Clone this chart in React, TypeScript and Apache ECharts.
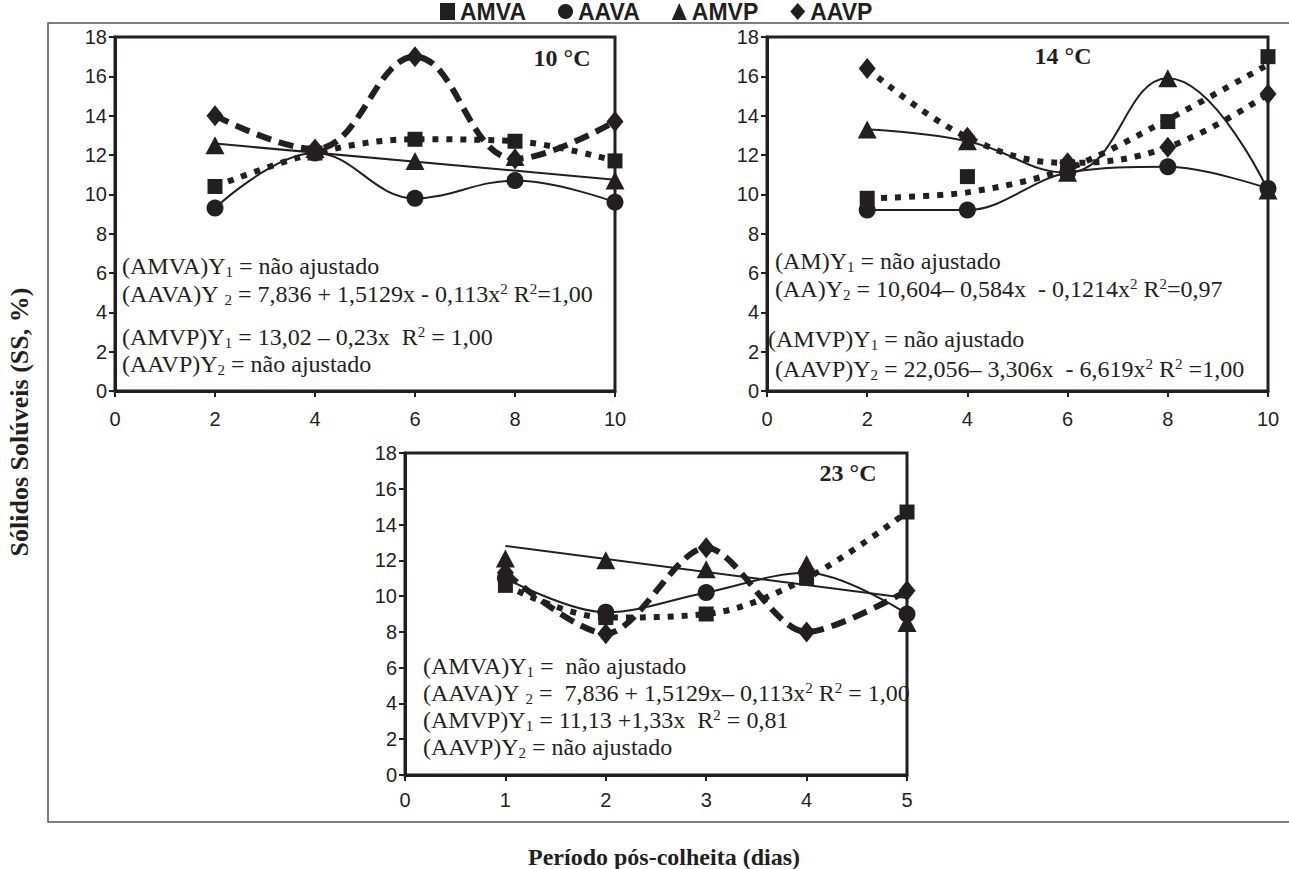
import React, { useEffect, useRef } from 'react';
import * as echarts from 'echarts';

// ---------- data ----------
const legendNames = ['AMVA', 'AAVA', 'AMVP', 'AAVP'];

// 10 °C
const days10 = [2, 4, 6, 8, 10];
const amva10 = [10.4, 12.1, 12.8, 12.7, 11.7];
const aava10 = [9.3, 12.1, 9.8, 10.7, 9.6];
const amvp10 = [12.5, 12.3, 11.7, 11.9, 10.7];
const aavp10 = [14.0, 12.3, 17.0, 11.8, 13.7];
const trendX10 = [2, 10];
const amvpTrend10 = [12.58, 10.74];

// 14 °C
const days14 = [2, 4, 6, 8, 10];
const amva14 = [9.8, 10.9, 11.4, 13.7, 17.0];
const amvaCurve14 = [9.8, 10.1, 11.3, 13.8, 16.6];
const aava14 = [9.2, 9.2, 11.1, 11.4, 10.3];
const amvp14 = [13.3, 12.7, 11.1, 15.9, 10.2];
const aavp14 = [16.4, 12.9, 11.6, 12.4, 15.1];

// 23 °C
const days23 = [1, 2, 3, 4, 5];
const amva23 = [10.6, 8.8, 9.0, 11.0, 14.7];
const aava23 = [11.0, 9.1, 10.2, 11.3, 9.0];
const amvp23 = [12.1, 12.0, 11.5, 11.8, 8.5];
const aavp23 = [11.3, 7.9, 12.7, 8.0, 10.3];
const trendX23 = [1, 5];
const amvpTrend23 = [12.8, 9.9];

const yTicks = { min: 0, max: 18, interval: 2 };
const xTicks10 = { min: 0, max: 10, interval: 2 };
const xTicks23 = { min: 0, max: 5, interval: 1 };

const panelTitles = ['10 °C', '14 °C', '23 °C'];

const eq10 = [
  '(AMVA)Y{s|1} = não ajustado',
  '(AAVA)Y {s|2} = 7,836 + 1,5129x - 0,113x{p|2} R{p|2}=1,00',
  '(AMVP)Y{s|1} = 13,02 – 0,23x  R{p|2} = 1,00',
  '(AAVP)Y{s|2} = não ajustado',
];
const eq14 = [
  '(AM)Y{s|1} = não ajustado',
  '(AA)Y{s|2} = 10,604– 0,584x  - 0,1214x{p|2} R{p|2}=0,97',
  '(AMVP)Y{s|1} = não ajustado',
  '(AAVP)Y{s|2} = 22,056– 3,306x  - 6,619x{p|2} R{p|2} =1,00',
];
const eq23 = [
  '(AMVA)Y{s|1} =  não ajustado',
  '(AAVA)Y {s|2} =  7,836 + 1,5129x– 0,113x{p|2} R{p|2} = 1,00',
  '(AMVP)Y{s|1} = 11,13 +1,33x  R{p|2} = 0,81',
  '(AAVP)Y{s|2} = não ajustado',
];

const yTitle = 'Sólidos Solúveis (SS, %)';
const xTitle = 'Período pós-colheita (dias)';

// ---------- styles ----------
const C = '#231f20';
const serif = 'Liberation Serif';
const sans = 'Liberation Sans';

const pairs = (xs: number[], ys: number[]) => xs.map((x, i) => [x, ys[i]]);

const markerDefs: Record<string, { symbol: string; size: any }> = {
  AMVA: { symbol: 'rect', size: [15, 15] },
  AAVA: { symbol: 'circle', size: 17 },
  AMVP: { symbol: 'triangle', size: [19, 18] },
  AAVP: { symbol: 'diamond', size: [17, 21] },
};

const grids = [
  { left: 115, top: 37, width: 500, height: 354 },
  { left: 767, top: 37, width: 501, height: 354 },
  { left: 405, top: 453, width: 502, height: 322 },
];

function lineSeries(gi: number, name: string, data: number[][], kind: 'solid' | 'dot' | 'dash', smooth: number | boolean) {
  const type = kind === 'solid' ? 'solid' : kind === 'dot' ? [6, 8] : [15, 8];
  return {
    type: 'line',
    name: name + ' linha ' + gi,
    xAxisIndex: gi,
    yAxisIndex: gi,
    data,
    smooth,
    showSymbol: false,
    symbol: 'none',
    silent: true,
    z: 2,
    lineStyle: { color: C, width: kind === 'solid' ? 2 : 6, type, cap: 'butt' },
  };
}

function markerSeries(gi: number, name: string, data: number[][]) {
  return {
    type: 'scatter',
    name,
    xAxisIndex: gi,
    yAxisIndex: gi,
    data,
    symbol: markerDefs[name].symbol,
    symbolSize: markerDefs[name].size,
    itemStyle: { color: C, opacity: 1 },
    z: 5,
  };
}

function axisCommon() {
  return {
    axisLine: { show: true, onZero: false, lineStyle: { color: C, width: 3 } },
    axisTick: { show: true, inside: false, length: 6, lineStyle: { color: C, width: 2 } },
    axisLabel: { color: C, fontFamily: sans, fontSize: 20 },
    splitLine: { show: false },
  };
}

const richStyles = {
  n: { fontSize: 24, fontFamily: serif, fill: C, lineHeight: 26 },
  s: { fontSize: 15, fontFamily: serif, fill: C, verticalAlign: 'bottom' },
  p: { fontSize: 15, fontFamily: serif, fill: C, verticalAlign: 'top' },
};

const toRich = (t: string) =>
  t
    .split(/(\{[sp]\|[^}]*\})/)
    .filter((seg) => seg.length > 0)
    .map((seg) => (seg.startsWith('{') ? seg : '{n|' + seg + '}'))
    .join('');

function eqTexts(lines: string[], xs: number[], ys: number[]) {
  return lines.map((t, i) => ({
    type: 'text',
    x: xs[i],
    y: ys[i],
    silent: true,
    style: {
      text: toRich(t),
      fill: C,
      fontFamily: serif,
      fontSize: 24,
      textAlign: 'left',
      textVerticalAlign: 'middle',
      rich: richStyles,
    },
  }));
}

function titleText(t: string, x: number, y: number) {
  return {
    type: 'text',
    x,
    y,
    silent: true,
    style: {
      text: t,
      fill: C,
      fontFamily: serif,
      fontWeight: 'bold',
      fontSize: 24,
      textAlign: 'center',
      textVerticalAlign: 'middle',
    },
  };
}

const option: any = {
  animation: false,
  backgroundColor: '#ffffff',
  legend: {
    data: legendNames.map((n) => ({ name: n, icon: markerDefs[n].symbol })),
    left: 440,
    top: 0,
    itemWidth: 15,
    itemHeight: 17,
    itemGap: 32,
    padding: 0,
    textStyle: { color: C, fontFamily: sans, fontWeight: 'bold', fontSize: 23, lineHeight: 23 },
    selectedMode: false,
  },
  grid: grids.map((g) => ({ ...g, show: true, borderColor: C, borderWidth: 3, backgroundColor: 'transparent' })),
  xAxis: [
    { gridIndex: 0, type: 'value', ...xTicks10, ...axisCommon(), axisLabel: { ...axisCommon().axisLabel, margin: 18 } },
    { gridIndex: 1, type: 'value', ...xTicks10, ...axisCommon(), axisLabel: { ...axisCommon().axisLabel, margin: 18 } },
    { gridIndex: 2, type: 'value', ...xTicks23, ...axisCommon(), axisLabel: { ...axisCommon().axisLabel, margin: 15 } },
  ],
  yAxis: [0, 1, 2].map((gi) => ({
    gridIndex: gi,
    type: 'value',
    ...yTicks,
    ...axisCommon(),
    axisLabel: { ...axisCommon().axisLabel, margin: 8 },
  })),
  series: [
    // 10 °C
    lineSeries(0, 'AMVA', pairs(days10, amva10), 'dot', 0.35),
    lineSeries(0, 'AAVA', pairs(days10, aava10), 'solid', 0.4),
    lineSeries(0, 'AMVP', pairs(trendX10, amvpTrend10), 'solid', false),
    lineSeries(0, 'AAVP', pairs(days10, aavp10), 'dash', 0.4),
    markerSeries(0, 'AMVA', pairs(days10, amva10)),
    markerSeries(0, 'AAVA', pairs(days10, aava10)),
    markerSeries(0, 'AMVP', pairs(days10, amvp10)),
    markerSeries(0, 'AAVP', pairs(days10, aavp10)),
    // 14 °C
    lineSeries(1, 'AMVA', pairs(days14, amvaCurve14), 'dot', 0.3),
    lineSeries(1, 'AAVA', pairs(days14, aava14), 'solid', 0.35),
    lineSeries(1, 'AMVP', pairs(days14, amvp14), 'solid', 0.45),
    lineSeries(1, 'AAVP', pairs(days14, aavp14), 'dot', 0.4),
    markerSeries(1, 'AMVA', pairs(days14, amva14)),
    markerSeries(1, 'AAVA', pairs(days14, aava14)),
    markerSeries(1, 'AMVP', pairs(days14, amvp14)),
    markerSeries(1, 'AAVP', pairs(days14, aavp14)),
    // 23 °C
    lineSeries(2, 'AMVA', pairs(days23, amva23), 'dot', 0.35),
    lineSeries(2, 'AAVA', pairs(days23, aava23), 'solid', 0.35),
    lineSeries(2, 'AMVP', pairs(trendX23, amvpTrend23), 'solid', false),
    lineSeries(2, 'AAVP', pairs(days23, aavp23), 'dash', 0.3),
    markerSeries(2, 'AMVA', pairs(days23, amva23)),
    markerSeries(2, 'AAVA', pairs(days23, aava23)),
    markerSeries(2, 'AMVP', pairs(days23, amvp23)),
    markerSeries(2, 'AAVP', pairs(days23, aavp23)),
  ],
  graphic: [
    {
      type: 'rect',
      silent: true,
      z: -10,
      shape: { x: 48, y: 23, width: 1270, height: 799 },
      style: { fill: 'none', stroke: '#555555', lineWidth: 1.5 },
    },
    titleText(panelTitles[0], 562, 58),
    titleText(panelTitles[1], 1063, 56),
    titleText(panelTitles[2], 848, 473),
    ...eqTexts(eq10, [122, 122, 122, 122], [266, 294, 337, 364]),
    ...eqTexts(eq14, [775, 775, 768, 775], [261, 289, 339, 369]),
    ...eqTexts(eq23, [423, 423, 423, 423], [666, 693, 720, 747]),
    {
      type: 'text',
      x: 19,
      y: 422,
      rotation: Math.PI / 2,
      silent: true,
      style: {
        text: yTitle,
        fill: C,
        fontFamily: serif,
        fontWeight: 'bold',
        fontSize: 26,
        textAlign: 'center',
        textVerticalAlign: 'middle',
      },
    },
    {
      type: 'text',
      x: 664,
      y: 857,
      silent: true,
      style: {
        text: xTitle,
        fill: C,
        fontFamily: serif,
        fontWeight: 'bold',
        fontSize: 24,
        textAlign: 'center',
        textVerticalAlign: 'middle',
      },
    },
  ],
};

export default function App() {
  const ref = useRef<HTMLDivElement>(null);
  useEffect(() => {
    if (!ref.current) return;
    const chart = echarts.init(ref.current, null, { renderer: 'svg' });
    chart.setOption(option);
    return () => chart.dispose();
  }, []);
  return (
    <div
      ref={ref}
      style={{ position: 'fixed', left: 0, top: 0, width: 1289, height: 869, background: '#ffffff' }}
    />
  );
}
